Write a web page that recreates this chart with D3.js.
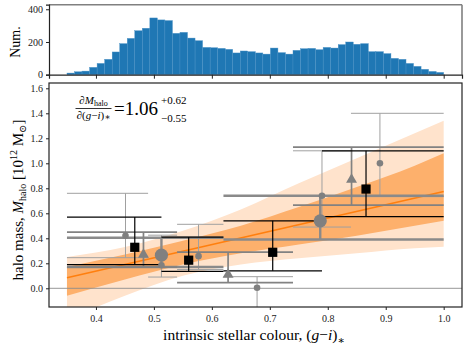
<!DOCTYPE html>
<html><head><meta charset="utf-8">
<script src="https://cdn.jsdelivr.net/npm/d3@7/dist/d3.min.js"></script>
<style>body{margin:0;background:#fff}svg{display:block}text{font-family:"Liberation Serif","DejaVu Serif",serif}</style>
</head><body><svg id="c" width="469" height="351"></svg>
<script>
// ---------------- data ----------------
const histLo = 0.35, histHi = 1.0;
const histCounts = [10,18,22,45,69,94,139,190,222,269,284,347,335,331,253,259,224,208,167,165,161,155,133,145,141,133,126,163,135,126,149,159,161,153,167,163,184,200,186,190,141,141,129,100,94,69,51,33,20,14];
const histTicks = [0,200,400];
const xTicks = [0.4,0.5,0.6,0.7,0.8,0.9,1.0];
const yTicks = [0.0,0.2,0.4,0.6,0.8,1.0,1.2,1.4,1.6];

// fit line & bands
const fitX = [0.35, 1.0];
const fitY = [0.085, 0.774];
const bandX   = [0.35, 0.45, 0.55, 0.65, 0.75, 0.85, 0.95, 1.0];
const darkLo  = [-0.06, 0.07, 0.19, 0.28, 0.35, 0.42, 0.50, 0.54];
const darkHi  = [0.17, 0.27, 0.38, 0.50, 0.65, 0.81, 0.98, 1.08];
const lightLo = [-0.25, -0.06, 0.10, 0.19, 0.24, 0.28, 0.32, 0.333];
const lightHi = [0.25, 0.33, 0.46, 0.63, 0.84, 1.04, 1.24, 1.34];

// squares (black)
const sqX = [0.467, 0.560, 0.705, 0.866];
const sqY = [0.328, 0.225, 0.288, 0.794];
const sqLo = [0.19, 0.135, 0.14, 0.573];
const sqHi = [0.57, 0.41, 0.54, 1.10];
const sqBinLo = [0.35, 0.513, 0.62, 0.79];
const sqBinHi = [0.513, 0.62, 0.79, 1.0];
// triangles
const trX = [0.482, 0.628, 0.841];
const trY = [0.27, 0.11, 0.87];
const trLo = [0.17, 0.045, 0.666];
const trHi = [0.45, 0.29, 1.13];
const trBinLo = [0.35, 0.54, 0.74];
const trBinHi = [0.54, 0.74, 1.0];
// big circles
const bcX = [0.513, 0.787];
const bcY = [0.265, 0.54];
const bcLo = [0.17, 0.39];
const bcHi = [0.405, 0.74];
const bcBinLo = [0.35, 0.62];
const bcBinHi = [0.62, 1.0];
// small circles
const scX = [0.451, 0.513, 0.577, 0.678, 0.790, 0.890];
const scY = [0.42, 0.185, 0.257, 0.005, 0.74, 1.00];
const scLo = [0.245, 0.09, 0.15, -0.30, 0.49, 0.733];
const scHi = [0.76, 0.425, 0.512, 0.093, 1.10, 1.40];
const scBinLo = [0.35, 0.49, 0.54, 0.62, 0.74, 0.84];
const scBinHi = [0.49, 0.54, 0.62, 0.74, 0.84, 1.0];

// ---------------- drawing ----------------
const svg = d3.select("#c");
const L = 49, R = 462;
const mainT = 83, mainB = 307, histT = 4.7, histB = 74.7;

const x = d3.scaleLinear().domain([0.319, 1.0316]).range([L, R]);
const y = d3.scaleLinear().domain([-0.1496, 1.6424]).range([mainB, mainT]);
const yh = d3.scaleLinear().domain([0, 428]).range([histB, histT]);

// ---- histogram ----
const nb = histCounts.length, bw = (histHi - histLo) / nb;
const hg = svg.append("g");
hg.selectAll("rect").data(histCounts).join("rect")
  .attr("x", (d,i) => x(histLo + i*bw))
  .attr("width", (d,i) => x(histLo + (i+1)*bw) - x(histLo + i*bw))
  .attr("y", d => yh(d)).attr("height", d => yh(0) - yh(d))
  .attr("fill", "#1f77b4").attr("stroke", "#4b92c6").attr("stroke-width", 0.4);
hg.append("line").attr("x1", L).attr("x2", R).attr("y1", histT).attr("y2", histT).attr("stroke", "#808080").attr("stroke-width", 1.6);
hg.append("line").attr("x1", R).attr("x2", R).attr("y1", histT).attr("y2", histB).attr("stroke", "#808080").attr("stroke-width", 1.6);
const hxAxis = svg.append("g").attr("transform", `translate(0,${histB})`)
  .call(d3.axisBottom(x).tickValues(xTicks).tickSize(4).tickFormat(""));
const hyAxis = svg.append("g").attr("transform", `translate(${L},0)`)
  .call(d3.axisLeft(yh).tickValues(histTicks).tickSize(3).tickFormat(d3.format("d")));
[hxAxis, hyAxis].forEach(a => { a.select(".domain").attr("stroke", "#222").attr("stroke-width", 1.2); a.selectAll("text").attr("font-size", 10).attr("font-family", "Liberation Serif").attr("fill","#222"); });
hxAxis.selectAll(".tick line").attr("stroke","#222");
hyAxis.selectAll(".tick line").attr("stroke","#222");
svg.append("text").attr("transform", "translate(20,42) rotate(-90)").attr("text-anchor", "middle")
  .attr("font-size", 14).text("Num.");

// ---- main panel ----
const clipId = "clipMain";
svg.append("clipPath").attr("id", clipId).append("rect").attr("x", L).attr("y", mainT).attr("width", R-L).attr("height", mainB-mainT);
const mg = svg.append("g").attr("clip-path", `url(#${clipId})`);

const bandCurve = d3.curveMonotoneX;
const areaOf = (lo, hi) => d3.area().x((d,i) => x(bandX[i])).y0((d,i) => y(lo[i])).y1((d,i) => y(hi[i])).curve(bandCurve)(bandX);
mg.append("path").attr("d", areaOf(lightLo, lightHi)).attr("fill", "#ffe3cc");
mg.append("path").attr("d", areaOf(darkLo, darkHi)).attr("fill", "#fdb06c");
mg.append("line").attr("x1", L).attr("x2", R).attr("y1", y(0)).attr("y2", y(0)).attr("stroke", "#8c8c8c").attr("stroke-width", 0.9);
mg.append("path").attr("d", d3.line().x((d,i)=>x(fitX[i])).y((d,i)=>y(fitY[i]))(fitX))
  .attr("stroke", "#ff7f0e").attr("stroke-width", 1.6).attr("fill", "none");

function errSeries(xs, ys, lo, hi, bl, bh, col, lw) {
  const g = mg.append("g").attr("stroke", col).attr("stroke-width", lw).attr("fill", "none");
  xs.forEach((xv, i) => {
    g.append("line").attr("x1", x(xv)).attr("x2", x(xv)).attr("y1", y(lo[i])).attr("y2", y(hi[i]));
    g.append("line").attr("x1", x(bl[i])).attr("x2", x(bh[i])).attr("y1", y(lo[i])).attr("y2", y(lo[i]));
    g.append("line").attr("x1", x(bl[i])).attr("x2", x(bh[i])).attr("y1", y(hi[i])).attr("y2", y(hi[i]));
  });
  return g;
}
errSeries(scX, scY, scLo, scHi, scBinLo, scBinHi, "#a0a0a0", 1.0);
errSeries(bcX, bcY, bcLo, bcHi, bcBinLo, bcBinHi, "#8a8a8a", 2.4);
errSeries(trX, trY, trLo, trHi, trBinLo, trBinHi, "#828282", 1.7);
errSeries(sqX, sqY, sqLo, sqHi, sqBinLo, sqBinHi, "#000", 1.2);

mg.append("g").selectAll("circle").data(scX).join("circle")
  .attr("cx", d => x(d)).attr("cy", (d,i) => y(scY[i])).attr("r", 3.3).attr("fill", "#808080");
mg.append("g").selectAll("circle").data(bcX).join("circle")
  .attr("cx", d => x(d)).attr("cy", (d,i) => y(bcY[i])).attr("r", 6.6).attr("fill", "#808080");
mg.append("g").selectAll("path").data(trX).join("path")
  .attr("d", d3.symbol(d3.symbolTriangle, 52)())
  .attr("transform", (d,i) => `translate(${x(d)},${y(trY[i])})`).attr("fill", "#808080");
mg.append("g").selectAll("rect").data(sqX).join("rect")
  .attr("x", d => x(d) - 4.6).attr("y", (d,i) => y(sqY[i]) - 4.6).attr("width", 9.2).attr("height", 9.2).attr("fill", "#000");

svg.append("rect").attr("x", L).attr("y", mainT).attr("width", R-L).attr("height", mainB-mainT)
  .attr("fill", "none").attr("stroke", "#222").attr("stroke-width", 1.2);
const mx = svg.append("g").attr("transform", `translate(0,${mainB})`)
  .call(d3.axisBottom(x).tickValues(xTicks).tickSize(3).tickFormat(d3.format(".1f")));
const my = svg.append("g").attr("transform", `translate(${L},0)`)
  .call(d3.axisLeft(y).tickValues(yTicks).tickSize(3).tickFormat(d3.format(".1f")));
[mx, my].forEach(a => { a.select(".domain").remove(); a.selectAll("text").attr("font-size", 10).attr("font-family", "Liberation Serif").attr("fill","#222"); a.selectAll(".tick line").attr("stroke","#222"); });
mx.selectAll("text").attr("dy", "0.85em");

const xl = svg.append("text").attr("x", 254).attr("y", 340).attr("text-anchor", "middle").attr("font-size", 15.5);
xl.append("tspan").text("intrinsic stellar colour, (");
xl.append("tspan").attr("font-style", "italic").text("g");
xl.append("tspan").text("\u2212");
xl.append("tspan").attr("font-style", "italic").text("i");
xl.append("tspan").text(")");
xl.append("tspan").attr("dy", 4).attr("font-size", 11).text("\u2217");

const yl = svg.append("text").attr("transform", "translate(23,200) rotate(-90)").attr("text-anchor", "middle").attr("font-size", 15);
yl.append("tspan").text("halo mass, ");
yl.append("tspan").attr("font-style", "italic").text("M");
yl.append("tspan").attr("dy", 3).attr("font-size", 10).text("halo");
yl.append("tspan").attr("dy", -3).text(" [10");
yl.append("tspan").attr("dy", -6).attr("font-size", 10).text("12");
yl.append("tspan").attr("dy", 6).text(" M");
yl.append("tspan").attr("dy", 3).attr("font-size", 10).text("\u2299");
yl.append("tspan").attr("dy", -3).text("]");

const num = svg.append("text").attr("x", 93.5).attr("y", 104).attr("text-anchor", "middle").attr("font-size", 11);
num.append("tspan").text("\u2202");
num.append("tspan").attr("font-style", "italic").text("M");
num.append("tspan").attr("dy", 2).attr("font-size", 8).text("halo");
svg.append("line").attr("x1", 75.5).attr("x2", 111.5).attr("y1", 108.5).attr("y2", 108.5).attr("stroke", "#000").attr("stroke-width", 0.8);
const den = svg.append("text").attr("x", 93.5).attr("y", 119).attr("text-anchor", "middle").attr("font-size", 11);
den.append("tspan").text("\u2202(");
den.append("tspan").attr("font-style", "italic").text("g");
den.append("tspan").text("\u2212");
den.append("tspan").attr("font-style", "italic").text("i");
den.append("tspan").text(")");
den.append("tspan").attr("font-size", 9).attr("dy", 1).text("\u2217");
svg.append("text").attr("x", 114).attr("y", 115).attr("font-size", 19).text("=1.06");
svg.append("text").attr("x", 161).attr("y", 104).attr("font-size", 11).text("+0.62");
svg.append("text").attr("x", 161).attr("y", 122).attr("font-size", 11).text("\u22120.55");
</script></body></html>
